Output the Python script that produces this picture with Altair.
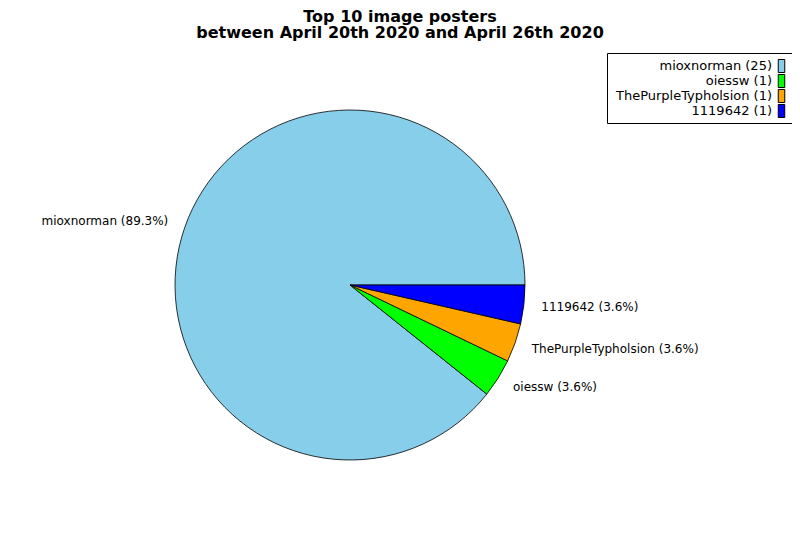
import math
import altair as alt
import pandas as pd

# ---- data ----
names = ["mioxnorman", "oiessw", "ThePurpleTypholsion", "1119642"]
counts = [25, 1, 1, 1]
colors = ["#87CEEB", "#00FF00", "#FFA500", "#0000FF"]
pie_order = [4, 3, 2, 1]  # clockwise from 3 o'clock: 1119642 first
title_lines = ["Top 10 image posters", "between April 20th 2020 and April 26th 2020"]

FONT = "DejaVu Sans"
df = pd.DataFrame({"name": names, "count": counts, "ord": pie_order})
dummy = pd.DataFrame({"a": [0]})

CX, CY, R = 342, 277, 175

fill_scale = alt.Scale(domain=names, range=colors)
theta_scale = alt.Scale(range=[math.pi / 2, math.pi / 2 + 2 * math.pi])

base = alt.Chart(df)

pie = base.mark_arc(outerRadius=R, stroke="black", strokeWidth=0.8).encode(
    theta=alt.Theta("count:Q", stack=True, scale=theta_scale),
    order=alt.Order("ord:Q", sort="ascending"),
    fill=alt.Fill("name:N", scale=fill_scale, legend=None),
    x=alt.value(CX),
    y=alt.value(CY),
)

lab_base = base.transform_joinaggregate(
    total="sum(count)"
).transform_window(
    cum="sum(count)", sort=[alt.SortField("ord")], frame=[None, 0]
).transform_calculate(
    mid="datum.cum - datum.count/2",
    ang="PI/2 + 2*PI*datum.mid/datum.total",
    side="sin(datum.ang) < 0 ? 'left' : 'right'",
    label="datum.name + ' (' + format(100*datum.count/datum.total, '.1f') + '%)'",
)


def label_layer(side, align):
    return lab_base.mark_text(
        radius=R * 1.1, align=align, baseline="middle", font=FONT, fontSize=12, color="black"
    ).encode(
        theta=alt.Theta("count:Q", stack=True),
        order=alt.Order("ord:Q", sort="ascending"),
        text=alt.condition(f"datum.side == '{side}'", alt.Text("label:N"), alt.value("")),
        x=alt.value(CX),
        y=alt.value(CY),
    )


labels_left = label_layer("left", "right")
labels_right = label_layer("right", "left")


def title_line(txt, yb):
    return alt.Chart(dummy).mark_text(
        align="center", baseline="alphabetic", font=FONT, fontSize=16, fontWeight="bold",
        color="black"
    ).encode(x=alt.value(392), y=alt.value(yb), text=alt.value(txt))


title1 = title_line(title_lines[0], 13.5)
title2 = title_line(title_lines[1], 30)

legend_frame = alt.Chart(dummy).mark_rect(
    fill="white", stroke="black", strokeWidth=1
).encode(x=alt.value(599.5), x2=alt.value(785.5), y=alt.value(45.5), y2=alt.value(115.5))

ly = alt.Y("name:N", sort=names, scale=alt.Scale(type="point", range=[58, 103], padding=0), axis=None)

legend_text = base.transform_calculate(
    ltxt="datum.name + ' (' + datum.count + ')'"
).mark_text(
    align="right", baseline="middle", font=FONT, fontSize=13, color="black"
).encode(x=alt.value(764), y=ly, text="ltxt:N")

legend_sym = base.mark_point(
    shape="M-0.5,-1H0.5V1H-0.5Z", filled=True, size=169, stroke="black",
    strokeWidth=1, opacity=1
).encode(
    x=alt.value(773.5), y=ly,
    fill=alt.Fill("name:N", scale=fill_scale, legend=None),
)

chart = alt.layer(
    pie, labels_left, labels_right, title1, title2, legend_frame, legend_text, legend_sym
).properties(
    width=784, height=524, padding=0, autosize=alt.AutoSizeParams(type="none")
).configure_view(strokeWidth=0)

chart.save("out.html", embed_options={"renderer": "svg", "actions": False})
